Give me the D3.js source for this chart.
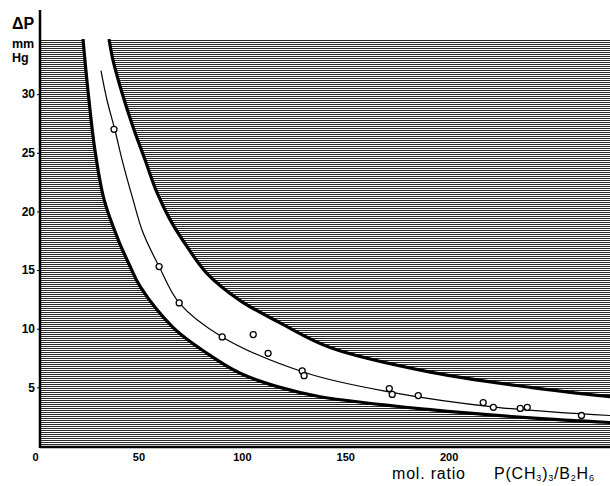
<!DOCTYPE html>
<html>
<head>
<meta charset="utf-8">
<script src="https://cdn.jsdelivr.net/npm/d3@7"></script>
<style>
  html, body { margin: 0; padding: 0; background: #fff; }
  svg { display: block; font-family: "Liberation Sans", Arial, sans-serif; }
</style>
</head>
<body>
<svg class="js-chart" width="610" height="486"></svg>
<script>
// values: [mol ratio, dP mmHg]
var upperEdge = [
  [35.8, 34.7], [37.7, 32.9], [42.1, 30.1], [47.4, 27.2], [53.2, 24.4],
  [59.0, 21.6], [65.3, 19.3], [73.5, 17.0], [83.2, 14.7], [99.2, 12.4],
  [118.5, 10.5], [142.7, 8.4], [191.1, 6.3], [239.5, 5.0], [278.2, 4.2]
];
var lowerEdge = [
  [23.2, 34.7], [25.6, 30.3], [29.0, 25.2], [33.4, 21.0], [40.2, 17.6],
  [46.0, 15.3], [50.8, 13.6], [66.8, 10.1], [83.2, 7.9], [99.2, 6.2],
  [118.5, 5.0], [137.9, 4.2], [191.1, 3.1], [239.5, 2.4], [278.2, 2.0]
];
var midCurve = [
  [31.9, 32.0], [34.8, 29.5], [38.7, 26.9], [42.1, 24.4], [47.4, 21.0],
  [52.2, 18.2], [60.0, 15.3], [69.7, 12.2], [90.5, 9.3], [131.6, 6.2],
  [171.7, 4.6], [223.5, 3.3], [278.2, 2.6]
];
var measured = [
  [38.2, 27.0], [60.0, 15.3], [69.7, 12.2], [90.5, 9.3], [105.5, 9.5],
  [112.7, 7.9], [129.2, 6.4], [130.1, 6.0], [171.3, 4.9], [172.7, 4.4],
  [185.3, 4.3], [216.7, 3.7], [221.6, 3.3], [234.6, 3.2], [238.0, 3.3],
  [264.2, 2.6]
];
var xTicks = [0, 50, 100, 150, 200];
var yTicks = [5, 10, 15, 20, 25, 30];

var width = 610,
    height = 486,
    plotLeft = 40,
    plotTop = 39,
    plotBottom = 447;

var svg = d3.select('.js-chart');

var x = d3.scaleLinear().domain([0, 278]).range([35, 610]),
    y = d3.scaleLinear().domain([0, 34.7]).range([446, 39]);

// hatch pattern (horizontal rules)
var defs = svg.append('defs');
var pat = defs.append('pattern')
    .attr('id', 'hatch')
    .attr('patternUnits', 'userSpaceOnUse')
    .attr('width', 8)
    .attr('height', 2);
pat.append('rect').attr('width', 8).attr('height', 2).attr('fill', '#fff');
pat.append('rect').attr('y', 0).attr('width', 8).attr('height', 1).attr('fill', '#2a2a2a');

defs.append('clipPath').attr('id', 'plot-clip')
  .append('rect')
    .attr('x', plotLeft).attr('y', plotTop)
    .attr('width', width - plotLeft).attr('height', plotBottom - plotTop);

var line = d3.line()
    .x(function (d) { return x(d[0]); })
    .y(function (d) { return y(d[1]); })
    .curve(d3.curveCatmullRom.alpha(0.5));

var plot = svg.append('g').attr('clip-path', 'url(#plot-clip)');

plot.append('rect')
    .attr('x', plotLeft).attr('y', plotTop)
    .attr('width', width - plotLeft).attr('height', plotBottom - plotTop)
    .attr('fill', 'url(#hatch)');

// clear everything right of the lower edge, then hatch again right of the upper edge
plot.append('path')
    .attr('d', line(lowerEdge) + 'L' + width + ',' + (plotTop - 5) + 'Z')
    .attr('fill', '#fff');
plot.append('path')
    .attr('d', line(upperEdge) + 'L' + width + ',' + (plotTop - 5) + 'Z')
    .attr('fill', 'url(#hatch)');

plot.selectAll('.edge')
    .data([upperEdge, lowerEdge])
    .enter().append('path')
    .attr('class', 'edge')
    .attr('d', line)
    .attr('fill', 'none')
    .attr('stroke', '#000')
    .attr('stroke-width', 3.2);

plot.append('path')
    .attr('d', line(midCurve))
    .attr('fill', 'none')
    .attr('stroke', '#000')
    .attr('stroke-width', 1.2);

plot.selectAll('circle')
    .data(measured)
    .enter().append('circle')
    .attr('cx', function (d) { return x(d[0]); })
    .attr('cy', function (d) { return y(d[1]); })
    .attr('r', 3)
    .attr('fill', '#fff')
    .attr('stroke', '#000')
    .attr('stroke-width', 1.3);

// axes
var yAxis = svg.append('g')
    .attr('transform', 'translate(' + plotLeft + ',0)')
    .call(d3.axisLeft(y).tickValues(yTicks).tickSize(3).tickPadding(2));
yAxis.select('.domain').remove();
yAxis.selectAll('text').attr('font-size', 12).attr('font-weight', 'bold').attr('fill', '#000');

var xAxis = svg.append('g')
    .attr('transform', 'translate(0,' + plotBottom + ')')
    .call(d3.axisBottom(x).tickValues(xTicks).tickSize(0).tickPadding(6));
xAxis.select('.domain').remove();
xAxis.selectAll('text').attr('font-size', 11).attr('font-weight', 'bold').attr('fill', '#000');

svg.append('line')
    .attr('x1', plotLeft).attr('x2', plotLeft)
    .attr('y1', 10).attr('y2', plotBottom + 1)
    .attr('stroke', '#000').attr('stroke-width', 2.5);
svg.append('line')
    .attr('x1', plotLeft).attr('x2', width)
    .attr('y1', plotBottom).attr('y2', plotBottom)
    .attr('stroke', '#000').attr('stroke-width', 2.5);

// titles
var yTitle = svg.append('g').attr('font-weight', 'bold').attr('fill', '#000');
yTitle.append('text').attr('x', 12).attr('y', 29).attr('font-size', 16).text('ΔP');
yTitle.append('text').attr('x', 12).attr('y', 48).attr('font-size', 12.5).text('mm');
yTitle.append('text').attr('x', 12).attr('y', 62).attr('font-size', 12.5).text('Hg');

var xTitle = svg.append('text')
    .attr('x', 392).attr('y', 479)
    .attr('font-size', 16)
    .attr('letter-spacing', 0.8)
    .attr('fill', '#000');
xTitle.append('tspan').text('mol. ratio');
xTitle.append('tspan').attr('x', 494).text('P(CH');
xTitle.append('tspan').attr('dy', 2).attr('font-size', 9).text('3');
xTitle.append('tspan').attr('dy', -2).text(')');
xTitle.append('tspan').attr('dy', 2).attr('font-size', 9).text('3');
xTitle.append('tspan').attr('dy', -2).text('/B');
xTitle.append('tspan').attr('dy', 2).attr('font-size', 9).text('2');
xTitle.append('tspan').attr('dy', -2).text('H');
xTitle.append('tspan').attr('dy', 2).attr('font-size', 9).text('6');
</script>
</body>
</html>
